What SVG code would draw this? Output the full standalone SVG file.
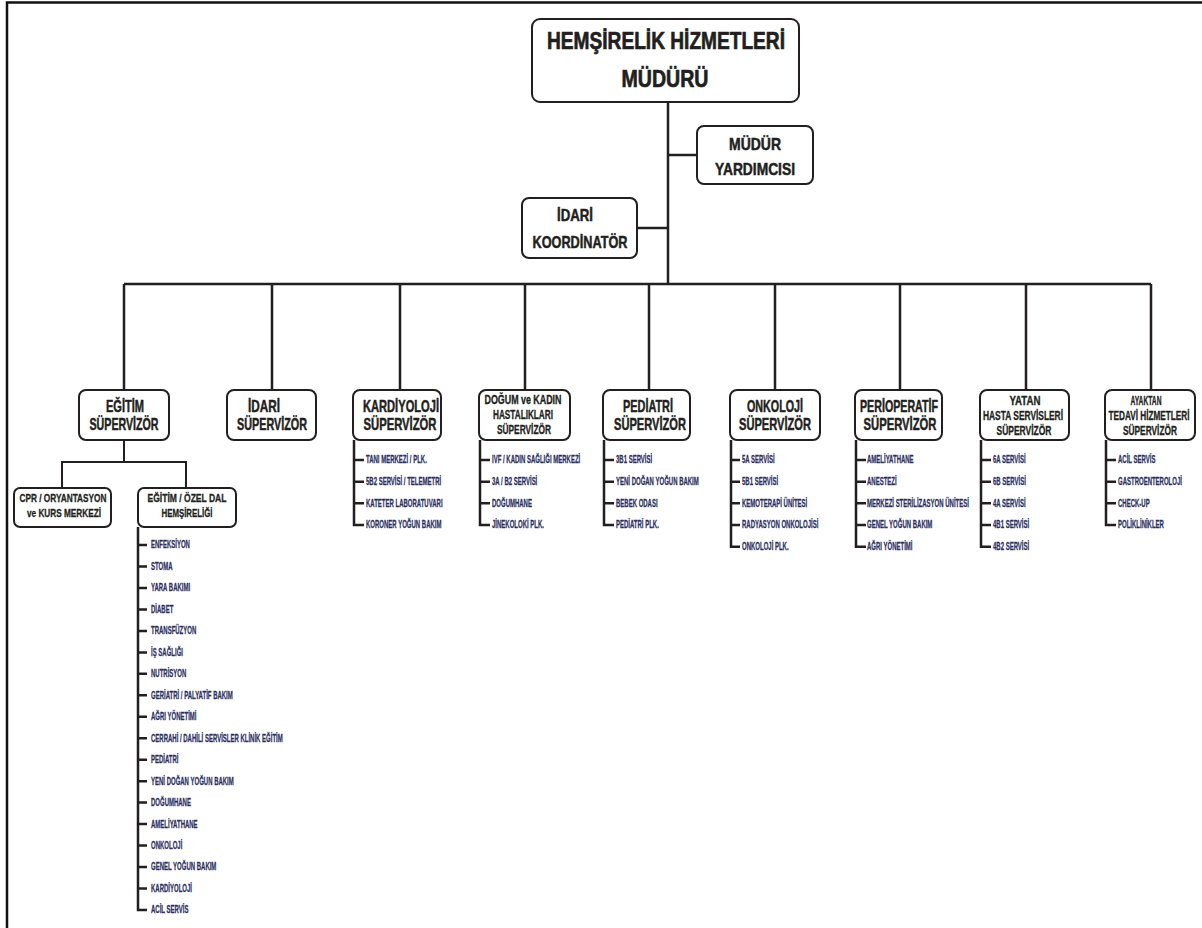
<svg xmlns="http://www.w3.org/2000/svg" width="1202" height="928" viewBox="0 0 1202 928">
<style>
.box{fill:#fff;stroke:#231f20;stroke-width:2}
.ln{fill:none;stroke:#231f20;stroke-width:2.5}
.ln2{fill:none;stroke:#231f20;stroke-width:2}
.t{font-family:"Liberation Sans",Arial,sans-serif;font-weight:bold;fill:#231f20;stroke:#231f20;stroke-width:0.5;text-anchor:middle}
.f23{font-size:23.5px;stroke-width:0.7}.f17{font-size:16.5px}.f13{font-size:12.5px;stroke-width:0.35}.f11{font-size:11px;stroke-width:0.3}
.it{font-family:"Liberation Sans",Arial,sans-serif;font-weight:bold;font-size:10px;fill:#2b2e5e;stroke:#2b2e5e;stroke-width:0.25}
</style>
<rect width="1202" height="928" fill="#fff"/>
<path d="M7 928 V2.5 H1202" fill="none" stroke="#111" stroke-width="2.5"/>

<g id="connectors">
<path class="ln" d="M668 102 V284"/>
<path class="ln" d="M668 155 H697"/>
<path class="ln" d="M637 228 H668"/>
<path class="ln" d="M124 284 H1151"/>
<path class="ln" d="M124 284 V390 M272 284 V390 M400 284 V390 M525 284 V390 M649 284 V390 M775 284 V390 M900 284 V390 M1026 284 V390 M1151 284 V390"/>
<path class="ln2" d="M124 440 V462 M62 488 V462 H186 V488"/>
<path class="ln" d="M138 527 V910 H147 M138 545 H147 M138 566.5 H147 M138 588 H147 M138 609.4 H147 M138 630.9 H147 M138 652.4 H147 M138 673.8 H147 M138 695.3 H147 M138 716.8 H147 M138 738.2 H147 M138 759.7 H147 M138 781.2 H147 M138 802.6 H147 M138 824.1 H147 M138 845.6 H147 M138 867 H147 M138 888.5 H147"/>
<path class="ln" d="M354 440 V525 H364 M354 460 H364 M354 481.7 H364 M354 503.3 H364"/>
<path class="ln" d="M480 440 V525 H490 M480 460 H490 M480 481.7 H490 M480 503.3 H490"/>
<path class="ln" d="M604 440 V525 H614 M604 460 H614 M604 481.7 H614 M604 503.3 H614"/>
<path class="ln" d="M731 440 V546.7 H740 M731 460 H740 M731 481.7 H740 M731 503.3 H740 M731 525 H740"/>
<path class="ln" d="M856 440 V546.7 H866 M856 460 H866 M856 481.7 H866 M856 503.3 H866 M856 525 H866"/>
<path class="ln" d="M981 440 V546.7 H991 M981 460 H991 M981 481.7 H991 M981 503.3 H991 M981 525 H991"/>
<path class="ln" d="M1106 440 V525 H1116 M1106 460 H1116 M1106 481.7 H1116 M1106 503.3 H1116"/>
</g>

<g id="mudur">
<rect class="box" x="532" y="19" width="267" height="83" rx="8"/>
<text class="t f23" x="666" y="48.5" textLength="238" lengthAdjust="spacingAndGlyphs">HEMŞİRELİK HİZMETLERİ</text>
<text class="t f23" x="665" y="87" textLength="87" lengthAdjust="spacingAndGlyphs">MÜDÜRÜ</text>
</g>
<g id="mudur-yardimcisi">
<rect class="box" x="697" y="126" width="116" height="58" rx="7"/>
<text class="t f17" x="755" y="150" textLength="52" lengthAdjust="spacingAndGlyphs">MÜDÜR</text>
<text class="t f17" x="755" y="175" textLength="80" lengthAdjust="spacingAndGlyphs">YARDIMCISI</text>
</g>
<g id="idari-koordinator">
<rect class="box" x="522" y="198" width="115" height="60" rx="7"/>
<text class="t f17" x="575" y="221" textLength="36" lengthAdjust="spacingAndGlyphs">İDARİ</text>
<text class="t f17" x="580" y="248" textLength="95" lengthAdjust="spacingAndGlyphs">KOORDİNATÖR</text>
</g>

<g id="egitim-supervizor">
<rect class="box" x="79" y="390" width="90" height="50" rx="7"/>
<text class="t f17" x="125" y="412" textLength="38" lengthAdjust="spacingAndGlyphs">EĞİTİM</text>
<text class="t f17" x="124" y="430" textLength="69" lengthAdjust="spacingAndGlyphs">SÜPERVİZÖR</text>
</g>
<g id="idari-supervizor">
<rect class="box" x="227" y="390" width="89" height="50" rx="7"/>
<text class="t f17" x="264" y="412" textLength="32" lengthAdjust="spacingAndGlyphs">İDARİ</text>
<text class="t f17" x="272" y="430" textLength="70" lengthAdjust="spacingAndGlyphs">SÜPERVİZÖR</text>
</g>
<g id="kardiyoloji-supervizor">
<rect class="box" x="353" y="390" width="88" height="50" rx="7"/>
<text class="t f17" x="401" y="412" textLength="76" lengthAdjust="spacingAndGlyphs">KARDİYOLOJİ</text>
<text class="t f17" x="400" y="430" textLength="73" lengthAdjust="spacingAndGlyphs">SÜPERVİZÖR</text>
</g>
<g id="dogum-supervizor">
<rect class="box" x="479" y="390" width="91" height="50" rx="7"/>
<text class="t f13" x="523" y="404" textLength="77" lengthAdjust="spacingAndGlyphs">DOĞUM ve KADIN</text>
<text class="t f13" x="523" y="419" textLength="60" lengthAdjust="spacingAndGlyphs">HASTALIKLARI</text>
<text class="t f13" x="524" y="434" textLength="54" lengthAdjust="spacingAndGlyphs">SÜPERVİZÖR</text>
</g>
<g id="pediatri-supervizor">
<rect class="box" x="603" y="390" width="87" height="50" rx="7"/>
<text class="t f17" x="648" y="412" textLength="50" lengthAdjust="spacingAndGlyphs">PEDİATRİ</text>
<text class="t f17" x="650" y="430" textLength="72" lengthAdjust="spacingAndGlyphs">SÜPERVİZÖR</text>
</g>
<g id="onkoloji-supervizor">
<rect class="box" x="730" y="390" width="90" height="50" rx="7"/>
<text class="t f17" x="775" y="412" textLength="56" lengthAdjust="spacingAndGlyphs">ONKOLOJİ</text>
<text class="t f17" x="775" y="430" textLength="72" lengthAdjust="spacingAndGlyphs">SÜPERVİZÖR</text>
</g>
<g id="perioperatif-supervizor">
<rect class="box" x="855" y="390" width="87" height="50" rx="7"/>
<text class="t f17" x="899" y="412" textLength="78" lengthAdjust="spacingAndGlyphs">PERİOPERATİF</text>
<text class="t f17" x="900" y="430" textLength="73" lengthAdjust="spacingAndGlyphs">SÜPERVİZÖR</text>
</g>
<g id="yatan-supervizor">
<rect class="box" x="980" y="390" width="89" height="50" rx="7"/>
<text class="t f13" x="1025" y="405" textLength="31" lengthAdjust="spacingAndGlyphs">YATAN</text>
<text class="t f13" x="1023" y="420" textLength="80" lengthAdjust="spacingAndGlyphs">HASTA SERVİSLERİ</text>
<text class="t f13" x="1024" y="435" textLength="55" lengthAdjust="spacingAndGlyphs">SÜPERVİZÖR</text>
</g>
<g id="ayaktan-supervizor">
<rect class="box" x="1105" y="390" width="90" height="50" rx="7"/>
<text class="t f13" x="1146" y="405" textLength="31" lengthAdjust="spacingAndGlyphs">AYAKTAN</text>
<text class="t f13" x="1149" y="420" textLength="81" lengthAdjust="spacingAndGlyphs">TEDAVİ HİZMETLERİ</text>
<text class="t f13" x="1150" y="435" textLength="54" lengthAdjust="spacingAndGlyphs">SÜPERVİZÖR</text>
</g>

<g id="cpr">
<rect class="box" x="14" y="488" width="97" height="39" rx="6"/>
<text class="t f11" x="63" y="502" textLength="87" lengthAdjust="spacingAndGlyphs">CPR / ORYANTASYON</text>
<text class="t f11" x="64" y="517" textLength="74" lengthAdjust="spacingAndGlyphs">ve KURS MERKEZİ</text>
</g>
<g id="egitim-ozel-dal">
<rect class="box" x="138" y="488" width="98" height="39" rx="6"/>
<text class="t f11" x="187" y="502" textLength="79" lengthAdjust="spacingAndGlyphs">EĞİTİM / ÖZEL DAL</text>
<text class="t f11" x="187" y="517" textLength="51" lengthAdjust="spacingAndGlyphs">HEMŞİRELİĞİ</text>
</g>

<g id="egitim-list" class="it" transform="translate(151 0) scale(0.6 1)">
<text y="548.5">ENFEKSİYON</text>
<text y="570">STOMA</text>
<text y="591.5">YARA BAKIMI</text>
<text y="612.9">DİABET</text>
<text y="634.4">TRANSFÜZYON</text>
<text y="655.9">İŞ SAĞLIĞI</text>
<text y="677.3">NUTRİSYON</text>
<text y="698.8">GERİATRİ / PALYATİF BAKIM</text>
<text y="720.3">AĞRI YÖNETİMİ</text>
<text y="741.7">CERRAHİ / DAHİLİ SERVİSLER KLİNİK EĞİTİM</text>
<text y="763.2">PEDİATRİ</text>
<text y="784.7">YENİ DOĞAN YOĞUN BAKIM</text>
<text y="806.1">DOĞUMHANE</text>
<text y="827.6">AMELİYATHANE</text>
<text y="849.1">ONKOLOJİ</text>
<text y="870.5">GENEL YOĞUN BAKIM</text>
<text y="892">KARDİYOLOJİ</text>
<text y="913.5">ACİL SERVİS</text>
</g>
<g id="kardiyoloji-list" class="it" transform="translate(366 0) scale(0.6 1)">
<text y="463.5">TANI MERKEZİ / PLK.</text>
<text y="485.2">5B2 SERVİSİ / TELEMETRİ</text>
<text y="506.8">KATETER LABORATUVARI</text>
<text y="528.5">KORONER YOĞUN BAKIM</text>
</g>
<g id="dogum-list" class="it" transform="translate(492 0) scale(0.6 1)">
<text y="463.5">IVF / KADIN SAĞLIĞI MERKEZİ</text>
<text y="485.2">3A / B2 SERVİSİ</text>
<text y="506.8">DOĞUMHANE</text>
<text y="528.5">JİNEKOLOKİ PLK.</text>
</g>
<g id="pediatri-list" class="it" transform="translate(616 0) scale(0.6 1)">
<text y="463.5">3B1 SERVİSİ</text>
<text y="485.2">YENİ DOĞAN YOĞUN BAKIM</text>
<text y="506.8">BEBEK ODASI</text>
<text y="528.5">PEDİATRİ PLK.</text>
</g>
<g id="onkoloji-list" class="it" transform="translate(742 0) scale(0.6 1)">
<text y="463.5">5A SERVİSİ</text>
<text y="485.2">5B1 SERVİSİ</text>
<text y="506.8">KEMOTERAPİ ÜNİTESİ</text>
<text y="528.5">RADYASYON ONKOLOJİSİ</text>
<text y="550.2">ONKOLOJİ PLK.</text>
</g>
<g id="perioperatif-list" class="it" transform="translate(867 0) scale(0.6 1)">
<text y="463.5">AMELİYATHANE</text>
<text y="485.2">ANESTEZİ</text>
<text y="506.8">MERKEZİ STERİLİZASYON ÜNİTESİ</text>
<text y="528.5">GENEL YOĞUN BAKIM</text>
<text y="550.2">AĞRI YÖNETİMİ</text>
</g>
<g id="yatan-list" class="it" transform="translate(993 0) scale(0.6 1)">
<text y="463.5">6A SERVİSİ</text>
<text y="485.2">6B SERVİSİ</text>
<text y="506.8">4A SERVİSİ</text>
<text y="528.5">4B1 SERVİSİ</text>
<text y="550.2">4B2 SERVİSİ</text>
</g>
<g id="ayaktan-list" class="it" transform="translate(1118 0) scale(0.6 1)">
<text y="463.5">ACİL SERVİS</text>
<text y="485.2">GASTROENTEROLOJİ</text>
<text y="506.8">CHECK-UP</text>
<text y="528.5">POLİKLİNİKLER</text>
</g>
</svg>
